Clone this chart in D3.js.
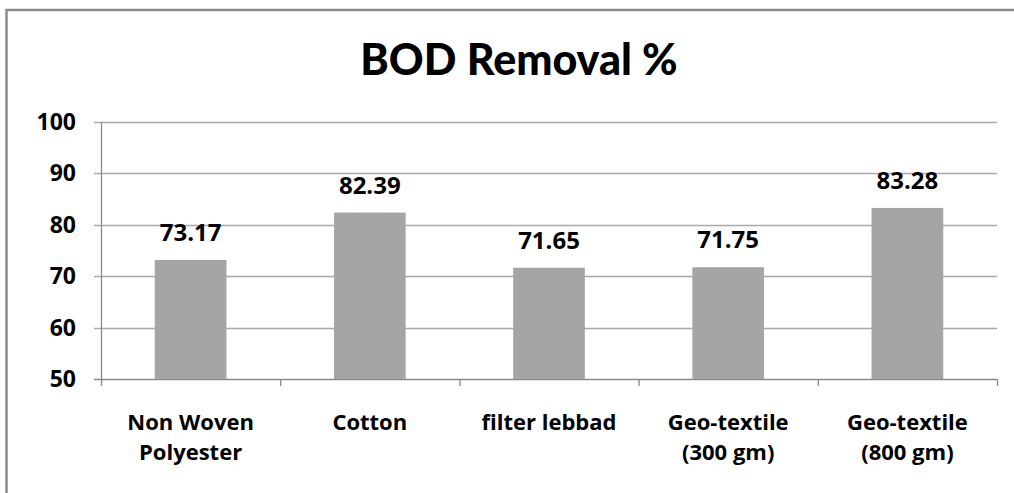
<!DOCTYPE html>
<html><head><meta charset="utf-8">
<script src="https://cdn.jsdelivr.net/npm/d3@7"></script>
<style>
html,body{margin:0;padding:0;background:#fff;overflow:hidden}
text{font-family:"Open Sans",Lato,sans-serif;font-weight:bold;fill:#000}
text.title{font-family:Lato,"Open Sans",sans-serif;font-weight:900}
</style></head><body>
<svg id="c" width="1014" height="493"></svg>
<script>
const title = "BOD Removal %";
const categories = [["Non Woven","Polyester"],["Cotton"],["filter lebbad"],["Geo-textile","(300 gm)"],["Geo-textile","(800 gm)"]];
const values = [73.17, 82.39, 71.65, 71.75, 83.28];
const yTicks = [50, 60, 70, 80, 90, 100];

const svg = d3.select("#c");
const L = 101, R = 997, T = 122, B = 379;
const keys = categories.map((c,i)=>i);
const x = d3.scaleBand().domain(keys).range([L,R]).paddingInner(0.6).paddingOuter(0.3);
const xb = d3.scaleBand().domain(keys).range([L,R]).padding(0);
const y = d3.scaleLinear().domain([50,100]).range([B,T]);

// outer border
svg.append("rect").attr("x",6.5).attr("y",10).attr("width",1100).attr("height",600)
  .attr("fill","none").attr("stroke","#8a8a8a").attr("stroke-width",2.5);

// title
svg.append("text").attr("class","title").attr("x",519).attr("y",75).attr("text-anchor","middle")
  .style("font-size","43px").text(title);

// gridlines + y labels
const g = svg.append("g");
yTicks.forEach(t=>{
  g.append("line").attr("x1",L-7).attr("x2",R).attr("y1",Math.round(y(t))+0.5).attr("y2",Math.round(y(t))+0.5)
    .attr("stroke", t===50 ? "#8a8a8a" : "#a9a9a9").attr("stroke-width",1.3);
  g.append("text").attr("x",76).attr("y",y(t)+8).attr("text-anchor","end")
    .style("font-size","23px").text(t);
});
// y axis line
g.append("line").attr("x1",L+0.5).attr("x2",L+0.5).attr("y1",T).attr("y2",B+7)
  .attr("stroke","#8a8a8a").attr("stroke-width",1.3);
// x ticks at boundaries
keys.forEach(k=>{
  g.append("line").attr("x1",xb(k)+xb.bandwidth()+0.5).attr("x2",xb(k)+xb.bandwidth()+0.5)
    .attr("y1",B).attr("y2",B+7).attr("stroke","#8a8a8a").attr("stroke-width",1.3);
});

// bars
svg.append("g").selectAll("rect").data(values).join("rect")
  .attr("x",(d,i)=>x(i)).attr("width",x.bandwidth())
  .attr("y",d=>y(d)).attr("height",d=>B-y(d)).attr("fill","#a5a5a5");

// value labels
svg.append("g").selectAll("text").data(values).join("text")
  .attr("x",(d,i)=>x(i)+x.bandwidth()/2).attr("y",d=>y(d)-19)
  .attr("text-anchor","middle").style("font-size","24px").text(d=>d.toFixed(2));

// category labels
categories.forEach((lines,i)=>{
  const t = svg.append("text").attr("text-anchor","middle").style("font-size","22px");
  lines.forEach((ln,j)=>{
    t.append("tspan").attr("x",x(i)+x.bandwidth()/2).attr("y",430+j*30).text(ln);
  });
});
</script></body></html>
